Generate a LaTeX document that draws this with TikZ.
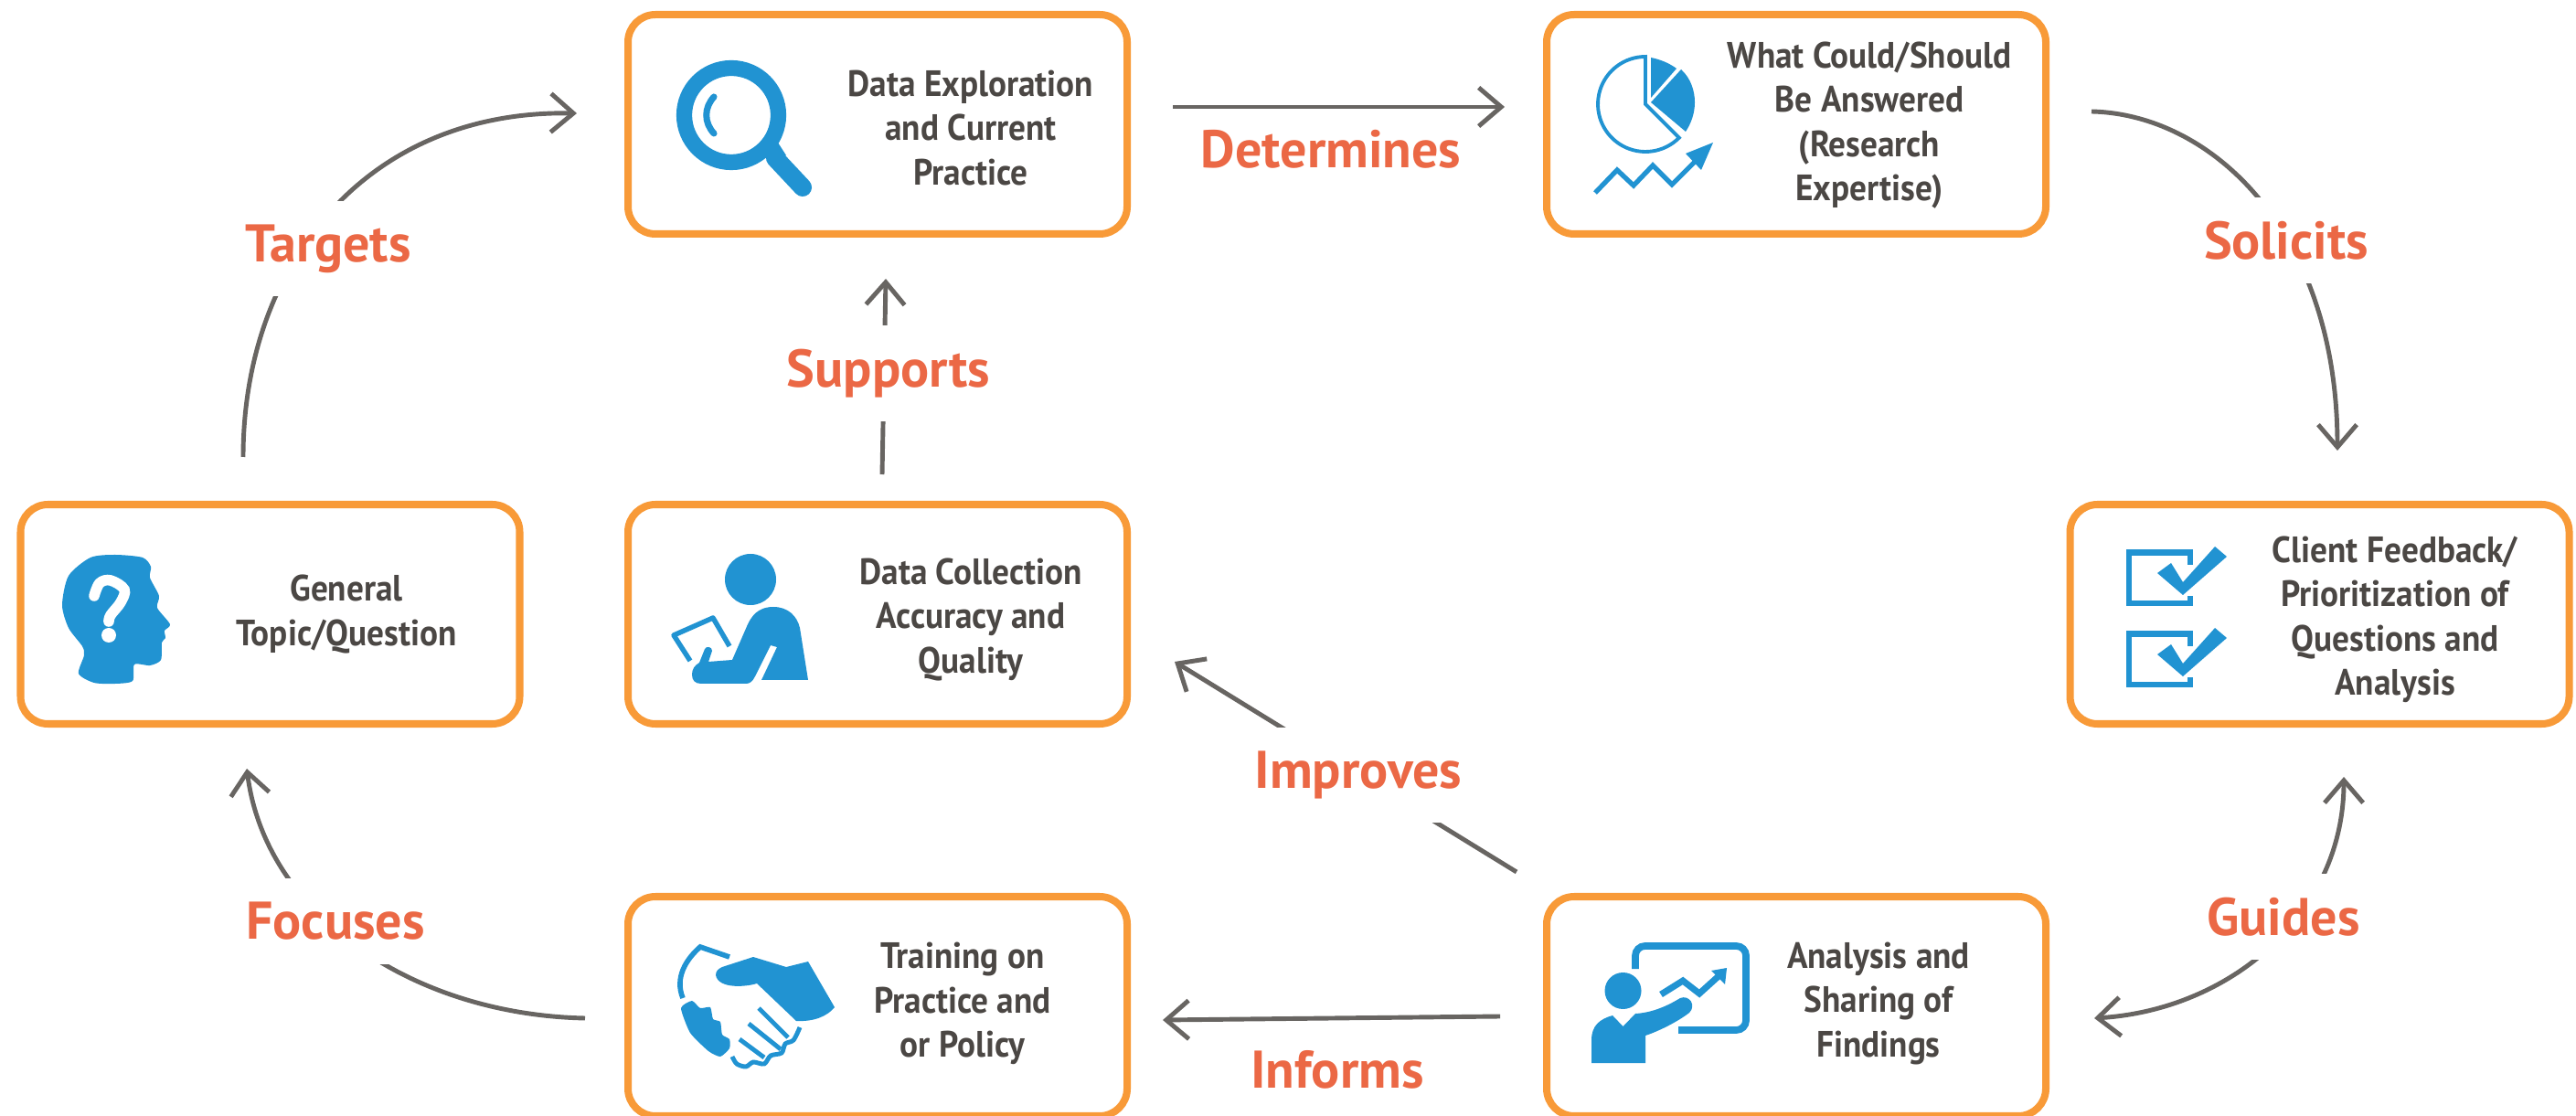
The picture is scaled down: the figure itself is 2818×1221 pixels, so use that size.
\documentclass[tikz,border=0pt]{standalone}
\usepackage{fontspec}
\setmainfont{PT Sans}
\newfontfamily\boxfont[FakeStretch=0.93]{PT Sans}
\usetikzlibrary{arrows.meta,calc}
\definecolor{boxor}{HTML}{F89A38}
\definecolor{icon}{HTML}{2193D2}
\definecolor{ink}{HTML}{4B4744}
\definecolor{lab}{HTML}{EB6845}
\definecolor{conn}{HTML}{686562}
\tikzset{
  stagebox/.style={draw=boxor,fill=white,line width=2.28pt,rounded corners=3mm,minimum width=54.6mm,minimum height=24mm,inner sep=0pt,outer sep=0pt},
  stagetext/.style={text=ink,align=center,font=\boxfont\fontsize{11.4}{13.8}\selectfont\bfseries,inner sep=0pt},
  verb/.style={text=lab,font=\fontsize{16.5}{18}\selectfont\bfseries,fill=white,inner xsep=2mm,inner ysep=2.6mm},
  verbplain/.style={text=lab,font=\fontsize{16.5}{18}\selectfont\bfseries,inner sep=0pt},
  link/.style={draw=conn,line width=1.4pt,-{Straight Barb[length=7pt,width=12pt,line width=1.4pt]}},
  linkboth/.style={draw=conn,line width=1.4pt,{Straight Barb[length=7pt,width=12pt,line width=1.4pt]}-{Straight Barb[length=7pt,width=12pt,line width=1.4pt]}},
  glyph/.style={fill=icon,draw=none},
  glyphline/.style={draw=icon,fill=none}
}
\begin{document}
\begin{tikzpicture}[x=0.1mm,y=-0.1mm]
\useasboundingbox (0,0) rectangle (2818,1221);
\clip (0,0) rectangle (2818,1221);
% boxes
\node[stagebox] (A) at (960,136) {};
\node[stagebox] (B) at (1965,136) {};
\node[stagebox] (G) at (295.5,672) {};
\node[stagebox] (D) at (960,672) {};
\node[stagebox] (C) at (2537.5,672) {};
\node[stagebox] (T) at (960,1101) {};
\node[stagebox] (S) at (1965,1101) {};
% box texts
\node[stagetext] (tA) at (1062,140) {Data Exploration\\and Current\\Practice};
\node[stagetext] (tB) at (2045,137) {What Could/Should\\Be Answered\\(Research\\Expertise)};
\node[stagetext] (tG) at (379,672) {General\\Topic/Question};
\node[stagetext] (tD) at (1062,678) {Data Collection\\Accuracy and\\Quality};
\node[stagetext] (tC) at (2620,678) {Client Feedback/\\Prioritization of\\Questions and\\Analysis};
\node[stagetext] (tT) at (1053,1098) {Training on\\Practice and\\or Policy};
\node[stagetext] (tS) at (2055,1098) {Analysis and\\Sharing of\\Findings};
% connectors
\draw[link] ([shift={(50,-19)}]A.east) -- ([shift={(-46,-19)}]B.west);
\draw[link] ([shift={(50,-14)}]B.east) .. controls +(132,3) and +(0,-239) .. ([shift={(19.5,-59)}]C.north);
\draw[linkboth] ([shift={(53,13)}]S.east) .. controls +(149,-9) and +(0,150) .. ([shift={(26.5,58)}]C.south);
\draw[link] ([shift={(-51,11)}]S.west) -- ([shift={(39,15)}]T.east);
\draw[link] ([shift={(-33,-27)}]S.north west) -- ([shift={(52,52)}]D.east);
\draw[link] ([shift={(-47,13)}]T.west) .. controls +(-190,-4) and +(20,159) .. ([shift={(-25.5,49)}]G.south);
\draw[link] ([shift={(-29.5,-52)}]G.north) .. controls +(0,-210) and +(-231,-4) .. ([shift={(-56,-12)}]A.west);
\draw[link] ([shift={(5,-33)}]D.north) -- ([shift={(9,49)}]A.south);
% labels
\node[verbplain] (lDet) at (1456,163) {Determines};
\node[verb] (lSol) at (2501,263) {Solicits};
\node[verb] (lGui) at (2498,1003) {Guides};
\node[verbplain] (lInf) at (1463,1170) {Informs};
\node[verb] (lImp) at (1486,848) {Improves};
\node[verb] (lFoc) at (367,1008) {Focuses};
\node[verb] (lTar) at (359,272) {Targets};
\node[verb] (lSup) at (972,409) {Supports};
% magnifier
\draw[glyphline,line width=4.9pt] (800,126) circle (51.5);
\draw[glyphline,line width=5.7pt,line cap=round] (848,173) -- (878,205);
\fill[icon] (834,165) -- (851,156) -- (860,170) -- (845,178) -- cycle;
\draw[glyphline,line width=2pt,line cap=round] (781,106) .. controls (770,118) and (770,134) .. (781,146);
% pie chart
\draw[glyphline,line width=1.1pt,line join=miter] (1800,114) -- plot[domain=45:270,samples=50] ({1800+52*cos(\x)},{114+52*sin(\x)}) -- cycle;
\fill[icon] (1806,63) .. controls (1816,65) and (1826,69) .. (1834,75) -- (1806,107) -- cycle;
\fill[icon] (1839,76) .. controls (1850,86) and (1854,100) .. (1854,112) .. controls (1854,124) and (1850,135) .. (1844,144) -- (1806,112) -- cycle;
\draw[glyphline,line width=1.5pt] (1745,211) -- (1769,186) -- (1787,203) -- (1808,181) -- (1829,202) -- (1856,175);
\fill[icon] (1874,156) -- (1844,168) -- (1861,186) -- cycle;
% head
\fill[icon] plot[smooth cycle,tension=0.45] coordinates {(86,737) (92,717) (90,707) (75,687) (68,662) (75,630) (99,610) (126,607) (156,610) (165,620) (164,632) (174,652) (172,665) (186,683) (180,690) (181,698) (177,703) (176,722) (164,728) (147,727) (145,745) (126,748) (103,747)};
\draw[white,line width=3.3pt,line cap=round] plot[smooth,tension=0.6] coordinates {(103,652) (109,638) (121,635) (136,645) (132,659) (121,673) (119,680)};
\fill[white] (119,695) circle (8);
% person with clipboard
\fill[icon] (821,634) circle (28);
\fill[icon] (801,722) -- (818,683) .. controls (825,668) and (835,664) .. (846,664) .. controls (862,664) and (872,674) .. (875,687) -- (884,744) -- (833,744) -- (850,708) -- (843,706) -- (826,740) .. controls (823,746) and (820,748) .. (816,748) -- (767,748) .. controls (760,748) and (757,744) .. (757,738) .. controls (757,732) and (760,728) .. (765,725) -- (771,710) .. controls (773,706) and (779,708) .. (779,712) -- (775,724) -- cycle;
\draw[glyphline,line width=1.55pt,line join=round] (755,723) -- (737,695) -- (780,676) -- (798,707);
% checkboxes
\foreach \dy/\nm in {0/one,89/two}{
  \begin{scope}[yshift=\dy*-0.1mm]
  \draw[glyphline,line width=1.9pt] (2396,618) -- (2396,604.5) -- (2329,604.5) -- (2329,660) -- (2396,660) -- (2396,652);
  \fill[icon] (2423,598) -- (2436,609) -- (2388,651) -- (2360,627) -- (2375,616) -- (2388,637) -- cycle;
  \end{scope}
}
% handshake
\draw[glyphline,line width=1.6pt] (798,1047) -- (766,1036) .. controls (750,1050) and (738,1070) .. (747,1092);
\fill[icon] (884,1052) -- (913,1102) .. controls (905,1112) and (890,1118) .. (871,1117) -- (828,1076) .. controls (815,1080) and (786,1082) .. (783,1067) .. controls (783,1062) and (786,1060) .. (790,1058) -- (824,1047) -- (860,1058) -- cycle;
\fill[icon] plot[smooth cycle,tension=0.35] coordinates {(745,1103) (757,1095) (766,1103) (777,1102) (780,1115) (788,1118) (790,1132) (798,1137) (798,1147) (788,1156) (775,1150) (755,1130)};
\draw[glyphline,line width=1.4pt] (830,1103) -- (862,1135);
\draw[glyphline,line width=1.4pt] (819,1120) -- (854,1148);
\draw[glyphline,line width=1.4pt] (809,1137) -- (836,1157);
\draw[glyphline,line width=1.4pt] plot[smooth,tension=0.5] coordinates {(875,1124) (868,1138) (859,1142) (855,1152) (843,1155) (836,1164) (824,1162) (816,1167) (806,1164) (801,1156)};
% presenter
\draw[glyphline,line width=2.2pt,rounded corners=3pt] (1789,1060) -- (1789,1035) -- (1910,1035) -- (1910,1127) -- (1836,1127);
\draw[glyphline,line width=2pt] (1817,1088) -- (1841,1073) -- (1859,1087) -- (1880,1068);
\fill[icon] (1872,1062) -- (1889,1059) -- (1887,1077) -- cycle;
\fill[icon] (1775.5,1084) circle (20);
\fill[icon] (1741,1163) -- (1800,1163) -- (1800,1133) .. controls (1815,1128) and (1835,1118) .. (1848,1108) .. controls (1856,1100) and (1848,1088) .. (1838,1092) .. controls (1825,1100) and (1808,1108) .. (1789,1109) -- (1775.5,1123) -- (1764,1111) .. controls (1750,1115) and (1741,1122) .. (1741,1138) -- cycle;
\end{tikzpicture}
\end{document}
